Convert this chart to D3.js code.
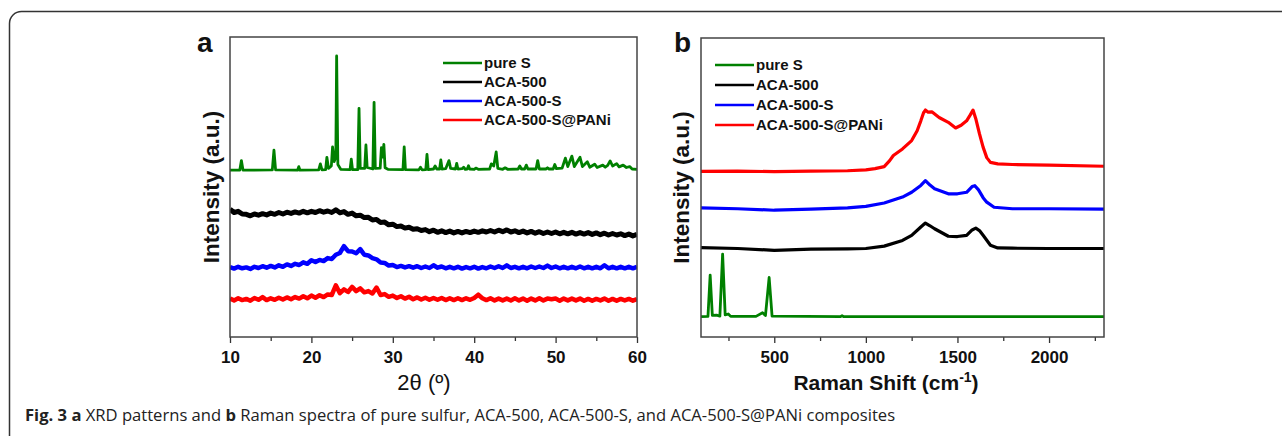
<!DOCTYPE html>
<html>
<head>
<meta charset="utf-8">
<script src="https://cdn.jsdelivr.net/npm/d3@7"></script>
<style>
  body { margin: 0; background: #fff; }
  svg { display: block; }
</style>
</head>
<body>
<div id="chart"></div>
<script>
// ---- data (intensities in arbitrary units, 0-100) ----
const seriesNames = ['pure S', 'ACA-500', 'ACA-500-S', 'ACA-500-S@PANi'];
const seriesColors = ['#008000', '#000000', '#0000ff', '#ff0000'];

const xrdTicks = [10, 20, 30, 40, 50, 60];
const xrdMinorTicks = [15, 25, 35, 45, 55];
const ramanTicks = [500, 1000, 1500, 2000];
const ramanMinorTicks = [250, 750, 1250, 1750, 2250];

// 2theta grid for the noisy XRD patterns (0.5 deg step)
const xrdGrid = d3.range(10, 60.001, 0.5);

const xrdAca500 = [42.6,41.5,41.9,41.0,40.9,40.4,41.0,40.6,41.1,40.7,41.3,40.9,41.5,41.0,41.6,41.2,41.7,41.3,41.9,41.4,
  41.9,41.5,42.1,41.6,42.0,41.5,42.4,41.4,41.8,40.9,41.3,40.4,40.6,39.8,39.9,39.0,39.2,38.2,38.3,37.4,
  37.6,36.8,37.0,36.3,36.6,35.9,36.1,35.5,35.8,35.1,35.6,34.9,35.4,34.8,35.3,34.7,35.2,34.7,35.2,34.8,
  35.3,34.9,35.4,35.0,35.5,35.0,35.6,35.1,35.7,35.0,35.4,34.8,35.3,34.7,35.2,34.6,35.1,34.5,35.0,34.5,
  35.0,34.4,34.9,34.4,34.9,34.3,34.8,34.3,34.8,34.2,34.7,34.1,34.6,34.0,34.5,34.0,34.4,33.8,34.3,33.7,34.2];

const xrdAca500S = [23.3,22.8,23.4,22.9,23.2,22.7,23.4,23.0,23.6,23.1,23.7,23.2,23.9,23.4,24.2,23.7,24.4,24.0,24.9,24.4,
  25.6,25.0,25.7,25.3,26.3,26.0,27.4,28.0,30.3,28.6,28.5,27.9,29.3,27.4,27.2,26.3,25.9,24.8,24.7,23.8,
  24.0,23.3,23.7,23.2,23.6,23.1,23.6,23.0,23.5,23.0,23.9,23.1,23.5,22.9,23.4,22.9,23.4,22.8,23.3,22.9,
  23.4,22.8,23.3,22.9,23.5,23.0,23.6,23.0,23.9,23.0,23.4,22.9,23.4,22.9,23.5,23.0,23.5,23.0,23.8,23.0,
  23.5,22.9,23.4,22.9,23.4,22.9,23.5,22.9,23.4,22.9,23.4,22.9,23.9,22.9,23.4,22.9,23.4,22.9,23.4,22.9,23.4];

const xrdAca500SPani = [12.8,12.2,12.9,12.3,12.7,12.1,13.0,12.4,13.3,12.3,12.9,12.4,13.1,12.5,13.2,12.6,13.3,12.8,13.6,12.9,
  13.8,13.1,13.9,13.3,14.2,14.0,17.2,14.6,15.9,15.0,16.7,15.3,16.2,14.9,15.3,14.5,16.5,14.0,14.3,13.4,
  13.8,13.0,13.6,12.8,13.4,12.6,13.2,12.5,13.1,12.4,13.0,12.4,13.0,12.3,12.9,12.3,12.9,12.3,12.9,12.4,
  13.0,14.1,12.9,12.3,12.9,12.2,12.8,12.2,12.8,12.2,12.9,12.2,12.8,12.1,12.8,12.2,12.9,12.2,12.8,12.6,
  12.8,12.1,12.8,12.2,12.8,12.2,12.8,12.1,12.7,12.1,12.7,12.2,12.8,12.1,12.7,12.1,12.7,12.2,12.7,12.1,12.6];

// pure sulfur XRD pattern as [2theta, intensity]
const xrdPureS = [[10,55.6],[11.2,55.6],[11.4,58.8],[11.6,55.6],[15.2,55.7],[15.4,62.3],[15.6,55.7],
  [18.3,55.6],[18.45,56.8],[18.6,55.6],[20.9,55.7],[21.1,57.7],[21.3,55.7],[21.75,55.8],[21.9,59.9],[22.1,56.2],
  [22.45,57],[22.6,63.4],[22.8,58.5],[23.0,60],[23.1,93.7],[23.25,57.5],[23.6,55.9],
  [24.75,55.8],[24.9,59.3],[25.05,55.8],[25.7,55.8],[25.85,76.2],[26.0,56.2],[26.55,56.2],[26.7,64],[26.85,56.5],
  [27.55,56],[27.7,78.2],[27.85,56.2],[28.45,56.3],[28.6,63.1],[28.75,60],[28.9,64.2],[29.05,56.4],[29.4,55.9],
  [31.25,55.8],[31.4,63.4],[31.55,55.8],[33.2,55.7],[33.4,56.6],[33.6,55.7],[34.05,55.8],[34.2,60.9],[34.35,55.8],
  [35.0,56],[35.2,57],[35.4,56],[35.75,56],[35.9,59],[36.05,56],[36.5,56.1],[36.9,58.8],[37.1,56.2],
  [37.7,56],[37.85,57.9],[38,56],[38.5,56.1],[38.7,56.6],[38.9,55.9],[39.15,56],[39.3,57.1],[39.45,56],
  [40,55.9],[40.2,56.3],[40.5,55.9],[41.9,56],[42.1,57.7],[42.4,57],[42.7,61.7],[42.9,56.2],
  [43.5,55.9],[43.8,56.4],[44.1,55.9],[45.4,56],[45.6,57],[45.8,56],[46.2,56],[46.4,57.3],[46.6,56],
  [47.6,56],[47.8,58.8],[48,56],[48.8,56],[49,56.4],[49.2,56],[49.7,56],[49.9,57.5],[50.1,56.1],
  [50.8,56.3],[51.2,59.6],[51.5,56.8],[52,60.3],[52.3,56.8],[53,59.9],[53.3,56.8],[53.9,58.4],[54.2,56.6],
  [54.8,57.6],[55.1,56.5],[55.8,57.3],[56.1,56.6],[56.4,57.2],[56.7,58.7],[57,57],[57.5,57.8],[57.8,56.7],
  [58.3,57.3],[58.7,56.5],[59.1,56.8],[59.4,56],[60,55.9]];

// Raman spectra as [shift cm-1, intensity]
const ramanPureS = [[100,6.8],[138,6.9],[150,20.7],[162,7.2],[185,7.3],[203,7],[218,27.7],[232,7.4],[249,7.7],
  [262,6.9],[400,6.9],[436,8.1],[452,7.2],[472,19.9],[488,7],[860,6.8],[870,7.1],[880,6.8],[2300,6.8]];
const ramanAca500 = [[100,29.9],[300,29.6],[500,29],[700,29.4],[900,29.5],[1000,29.6],[1100,30.4],[1200,32.3],
  [1250,34],[1300,36.8],[1325,38.1],[1350,37.2],[1375,36.2],[1450,33.7],[1500,33.6],[1550,34],[1580,35.8],
  [1600,36.4],[1620,35.6],[1640,34],[1680,30.7],[1720,29.8],[1800,29.7],[2000,29.6],[2300,29.6]];
const ramanAca500S = [[100,43.2],[300,42.9],[500,42.4],[700,42.8],[900,43.2],[1000,43.7],[1100,44.8],[1200,46.8],
  [1250,48.4],[1300,50.7],[1325,52.3],[1350,50.8],[1375,49.6],[1450,47.9],[1500,47.9],[1550,48.4],[1580,50.3],
  [1595,50.6],[1615,49.2],[1640,46.6],[1660,45.1],[1700,43.4],[1800,42.9],[2000,42.9],[2300,42.8]];
const ramanAca500SPani = [[100,55.4],[300,55.5],[500,55.3],[700,55.5],[900,55.6],[1000,55.9],[1050,56.3],[1100,57],
  [1130,59],[1150,60.7],[1200,62.9],[1250,65.7],[1280,69],[1300,72.3],[1315,75],[1325,75.9],[1340,75.2],
  [1360,75.3],[1400,73.4],[1450,71.8],[1490,69.9],[1520,70.8],[1550,72.3],[1570,74.3],[1585,75.9],[1600,73],
  [1620,68],[1640,63.5],[1660,60],[1680,58.4],[1720,57.9],[1800,57.7],[2000,57.5],[2300,57.1]];

const W = 1282, H = 436;
const FONT = 'Arial, "Liberation Sans", sans-serif';

const svg = d3.select('#chart').append('svg')
  .attr('width', W)
  .attr('height', H);

// outer rounded frame of the figure (runs off right/bottom)
svg.append('rect')
  .attr('x', 9.5).attr('y', 11.5)
  .attr('width', 1400).attr('height', 600)
  .attr('rx', 12)
  .attr('fill', 'none')
  .attr('stroke', '#333')
  .attr('stroke-width', 1.5);

function drawPanel(opt) {
  const x = d3.scaleLinear().domain(opt.xDomain).range([opt.left, opt.right]);
  const y = d3.scaleLinear().domain([0, 100]).range([opt.bottom, opt.top]);
  const g = svg.append('g');

  const clipId = 'clip-' + opt.letter;
  svg.append('clipPath').attr('id', clipId)
    .append('rect')
    .attr('x', opt.left).attr('y', opt.top)
    .attr('width', opt.right - opt.left).attr('height', opt.bottom - opt.top);

  const line = d3.line().x(d => x(d[0])).y(d => y(d[1]));
  const plot = g.append('g').attr('clip-path', `url(#${clipId})`);
  opt.series.forEach(s => {
    plot.append('path')
      .datum(s.data)
      .attr('fill', 'none')
      .attr('stroke', s.color)
      .attr('stroke-width', s.width)
      .attr('stroke-linejoin', 'round')
      .attr('d', line);
  });

  // minor ticks
  g.append('g')
    .attr('transform', `translate(0,${opt.bottom})`)
    .call(d3.axisBottom(x).tickValues(opt.minorTicks).tickSize(4).tickFormat(''))
    .call(a => a.select('.domain').remove())
    .selectAll('line').attr('stroke', '#333').attr('stroke-width', 1.3);

  // major ticks + labels
  const ax = g.append('g')
    .attr('transform', `translate(0,${opt.bottom})`)
    .call(d3.axisBottom(x).tickValues(opt.ticks).tickFormat(d3.format('d'))
      .tickSize(6).tickSizeOuter(0).tickPadding(8));
  ax.select('.domain').remove();
  ax.selectAll('line').attr('stroke', '#333').attr('stroke-width', 1.3);
  ax.selectAll('text')
    .attr('fill', '#111')
    .style('font-family', FONT)
    .style('font-size', '17px')
    .style('font-weight', 'bold');

  // box frame
  g.append('rect')
    .attr('x', opt.left).attr('y', opt.top)
    .attr('width', opt.right - opt.left).attr('height', opt.bottom - opt.top)
    .attr('fill', 'none')
    .attr('stroke', '#444')
    .attr('stroke-width', 1.5);

  // panel letter
  g.append('text')
    .attr('x', opt.letterX).attr('y', opt.letterY)
    .style('font-family', FONT).style('font-size', '28px').style('font-weight', 'bold')
    .attr('fill', '#111')
    .text(opt.letter);

  // y title
  g.append('text')
    .attr('transform', `translate(${opt.yTitleX},${(opt.top + opt.bottom) / 2}) rotate(-90)`)
    .attr('text-anchor', 'middle')
    .style('font-family', FONT).style('font-size', '22.5px').style('font-weight', 'bold')
    .attr('fill', '#111')
    .text('Intensity (a.u.)');

  // legend
  const lg = g.append('g');
  seriesNames.forEach((name, i) => {
    const ly = opt.legendY + i * opt.legendStep;
    lg.append('line')
      .attr('x1', opt.legendX).attr('x2', opt.legendX + 39)
      .attr('y1', ly).attr('y2', ly)
      .attr('stroke', seriesColors[i]).attr('stroke-width', 2.5);
    lg.append('text')
      .attr('x', opt.legendX + 41).attr('y', ly).attr('dy', '0.35em')
      .style('font-family', FONT).style('font-size', '15px').style('font-weight', 'bold')
      .attr('fill', '#111')
      .text(name);
  });
  return g;
}

const xrdGridSeries = vals => xrdGrid.map((t, i) => [t, vals[i]]);

drawPanel({
  letter: 'a', letterX: 197, letterY: 52,
  left: 230, right: 637, top: 37, bottom: 337,
  xDomain: [10, 60], ticks: xrdTicks, minorTicks: xrdMinorTicks,
  yTitleX: 219,
  legendX: 443, legendY: 63, legendStep: 19,
  series: [
    { data: xrdPureS, color: seriesColors[0], width: 2.8 },
    { data: xrdGridSeries(xrdAca500), color: seriesColors[1], width: 5 },
    { data: xrdGridSeries(xrdAca500S), color: seriesColors[2], width: 4.5 },
    { data: xrdGridSeries(xrdAca500SPani), color: seriesColors[3], width: 4.5 }
  ]
});

drawPanel({
  letter: 'b', letterX: 674, letterY: 52,
  left: 701, right: 1104, top: 38, bottom: 337,
  xDomain: [100, 2300], ticks: ramanTicks, minorTicks: ramanMinorTicks,
  yTitleX: 689,
  legendX: 715, legendY: 65, legendStep: 20,
  series: [
    { data: ramanPureS, color: seriesColors[0], width: 2.8 },
    { data: ramanAca500, color: seriesColors[1], width: 3.2 },
    { data: ramanAca500S, color: seriesColors[2], width: 3.2 },
    { data: ramanAca500SPani, color: seriesColors[3], width: 3.2 }
  ]
});

// x titles
svg.append('text')
  .attr('x', 424).attr('y', 390)
  .attr('text-anchor', 'middle')
  .style('font-family', '"Liberation Sans Narrow", ' + FONT).style('font-size', '22px')
  .attr('fill', '#111')
  .text('2\u03b8 (\u00ba)');

const rt = svg.append('text')
  .attr('x', 886).attr('y', 390)
  .attr('text-anchor', 'middle')
  .style('font-family', FONT).style('font-size', '21px').style('font-weight', 'bold')
  .attr('fill', '#111');
rt.append('tspan').text('Raman Shift (cm');
rt.append('tspan').attr('dy', -8).style('font-size', '14px').text('-1');
rt.append('tspan').attr('dy', 8).text(')');

// caption
const cap = svg.append('text')
  .attr('x', 25).attr('y', 421)
  .style('font-family', '"Open Sans", sans-serif').style('font-size', '16.6px')
  .attr('fill', '#222');
cap.append('tspan').style('font-weight', 'bold').text('Fig. 3');
cap.append('tspan').text(' ');
cap.append('tspan').style('font-weight', 'bold').text('a');
cap.append('tspan').text(' XRD patterns and ');
cap.append('tspan').style('font-weight', 'bold').text('b');
cap.append('tspan').text(' Raman spectra of pure sulfur, ACA-500, ACA-500-S, and ACA-500-S@PANi composites');
</script>
</body>
</html>
